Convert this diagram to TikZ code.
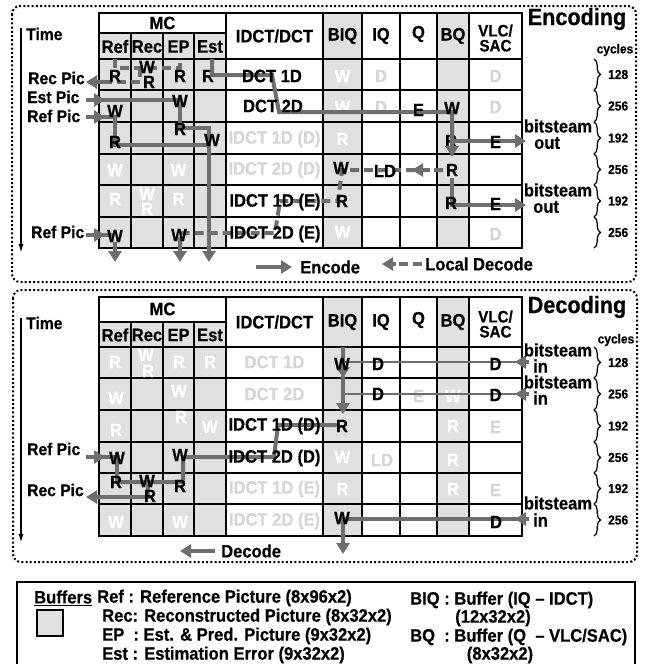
\documentclass[tikz,border=0pt]{standalone}
\usepackage{fontspec}
\setmainfont{Liberation Sans Bold}[FakeStretch=0.92,FakeBold=0.5]
\usetikzlibrary{arrows.meta,decorations.pathreplacing}
\definecolor{cellgray}{HTML}{E0E0E0}
\definecolor{arr}{HTML}{6E6E6E}
\definecolor{faint}{HTML}{D6D6D6}
\newcommand\gridtab[9]{%
 \fill[cellgray] (99,#2) rectangle (226,#9);
 \fill[cellgray] (323,#1) rectangle (362,#9);
 \fill[cellgray] (437,#1) rectangle (469,#9);
 \draw[gridl] (99,#2) -- (226,#2);
 \foreach \yy in {#3,#4,#5,#6,#7,#8} {\draw[gridl] (99,\yy) -- (522,\yy);}
 \foreach \xx in {131,163,194} {\draw[gridl] (\xx,#2) -- (\xx,#9);}
 \foreach \xx in {226,323,362,400,437,469} {\draw[gridl] (\xx,#1) -- (\xx,#9);}
 \draw[line width=2pt] (99,#1) rectangle (522,#9);
}
\newcommand\cellt[4]{\node[#1] (#2) at (#3) {#4};}
\begin{document}
\begin{tikzpicture}[x=1pt,y=-1pt,
  txt/.style={font=\fontsize{18}{19}\selectfont, inner sep=0pt},
  lab/.style={font=\fontsize{17}{18}\selectfont, inner sep=0pt},
  sm/.style={font=\fontsize{13}{14}\selectfont, inner sep=0pt},
  big/.style={font=\fontsize{23.5}{25}\selectfont, inner sep=0pt},
  bk/.style={txt,text=black},
  wh/.style={txt,text=white},
  ft/.style={txt,text=faint},
  sol/.style={draw=arr,line width=4pt},
  solthin/.style={draw=arr,line width=2.5pt},
  dsh/.style={draw=arr,line width=4pt,dash pattern=on 9pt off 5pt},
  tip/.style={-{Triangle[width=13pt,length=11pt]}},
  gridl/.style={line width=1.7pt},
  frame/.style={line width=2pt, dash pattern=on 2pt off 2.2pt, rounded corners=8pt},
  brc/.style={decorate, decoration={brace, amplitude=6.5pt}, line width=1.2pt},
  timeax/.style={line width=1.5pt,-{Latex[length=9pt,width=5pt]}},
]
\useasboundingbox (0,0) rectangle (647,664);
\fill[white] (0,0) rectangle (647,664);

% ================= ENCODING =================
\draw[frame] (12,6) rectangle (636,282);
\gridtab{13}{33}{59}{90}{122}{154}{185}{217}{248}
% header
\cellt{bk}{eMC}{162.5,23}{MC}
\cellt{bk}{eRef}{115,46.5}{Ref}
\cellt{bk}{eRec}{147,46.5}{Rec}
\cellt{bk}{eEP}{178.5,46.5}{EP}
\cellt{bk}{eEst}{210,46.5}{Est}
\cellt{bk}{eIDCT}{274.5,36}{IDCT/DCT}
\cellt{bk}{eBIQ}{342.5,36}{BIQ}
\cellt{bk}{eIQ}{381,36}{IQ}
\cellt{bk}{eQ}{418.5,34}{Q}
\cellt{bk}{eBQ}{453,36}{BQ}
\node[txt,align=center,font=\fontsize{16.5}{15}\selectfont] (eVLC) at (495.5,38) {VLC/\\SAC};
% faint cells
\cellt{wh}{e1biq}{342.5,76}{W}
\cellt{ft}{e1iq}{381,76}{D}
\cellt{ft}{e1vlc}{495.5,76}{D}
\cellt{wh}{e2biq}{342.5,107}{W}
\cellt{ft}{e2iq}{381,107}{D}
\cellt{ft}{e2vlc}{495.5,107}{D}
\cellt{ft}{e3idct}{274.5,139}{IDCT 1D (D)}
\cellt{wh}{e3biq}{342.5,139}{R}
\cellt{wh}{e4ref}{115,170}{W}
\cellt{wh}{e4ep}{178.5,170}{W}
\cellt{ft}{e4idct}{274.5,170}{IDCT 2D (D)}
\cellt{wh}{e5ref}{115,199}{R}
\cellt{wh}{e5recw}{147,194}{W}
\cellt{wh}{e5recr}{147,209}{R}
\cellt{wh}{e5ep}{178.5,199}{R}
\cellt{wh}{e6biq}{342.5,232}{W}
\cellt{ft}{e6vlc}{495.5,234}{D}
\cellt{bk}{e1est}{208,76}{R}
\cellt{bk}{e3bq}{451,141}{R}
% arrows: encode
\draw[sol] (212,59) -- (212,75) -- (272,75) -- (279,112) -- (452,112) -- (452,145);
\draw[sol,tip] (452,140) -- (452,157);
\draw[sol,tip] (452,141) -- (526,141);
\draw[sol,tip] (452,178) -- (452,205) -- (526,205);
\draw[sol] (100,100) -- (180,100) -- (180,128) -- (209,128) -- (209,150);
\draw[sol,tip] (86,100) -- (105,100);
\draw[sol] (100,117) -- (115,117) -- (115,145) -- (209,145);
\draw[sol,tip] (209,140) -- (209,262);
\draw[sol,tip] (86,117) -- (105,117);
% arrows: local decode
\draw[dsh] (115,59) -- (115,68) -- (180,68) -- (180,59);
\draw[dsh] (140,68) -- (140,82) -- (99,82);
\draw[sol,tip] (103,82) -- (86,82);
\draw[dsh] (443,170) -- (342,170) -- (338,201) -- (280,201) -- (275,233) -- (180,233) -- (180,246);
\draw[sol,tip] (430,170) -- (412,170);
\draw[sol,tip] (180,242) -- (180,262);
\draw[sol,tip] (86,235) -- (105,235);
\draw[sol] (100,235) -- (113,235);
\draw[sol,tip] (115,242) -- (115,262);
% black cells
\cellt{bk}{e1ref}{115,76}{R}
\cellt{bk}{e1recw}{147,67}{W}
\cellt{bk}{e1recr}{149,82}{R}
\cellt{bk}{e1ep}{180,76}{R}
\cellt{bk}{e1idct}{272,76}{DCT 1D}
\cellt{bk}{e2ref}{115,111}{W}
\cellt{bk}{e2ep}{180,101}{W}
\cellt{bk}{e2idct}{273,106}{DCT 2D}
\cellt{bk}{e2q}{418.5,110}{E}
\cellt{bk}{e2bq}{452,108}{W}
\cellt{bk}{e3ref}{115,142}{R}
\cellt{bk}{e3ep}{180,129}{R}
\cellt{bk}{e3est}{212,140}{W}
\cellt{bk}{e3vlc}{495.5,142}{E}
\cellt{bk}{e4biq}{341,168}{W}
\cellt{bk}{e4iq}{385,171}{LD}
\cellt{bk}{e4bq}{452,170}{R}
\cellt{bk}{e5idct}{275,202}{IDCT 1D (E)}
\cellt{bk}{e5biq}{342,201}{R}
\cellt{bk}{e5bq}{451,203}{R}
\cellt{bk}{e5vlc}{495.5,204}{E}
\cellt{bk}{e6ref}{115,236}{W}
\cellt{bk}{e6ep}{179,235}{W}
\cellt{bk}{e6idct}{275,234}{IDCT 2D (E)}
% side labels
\draw[timeax] (21,28) -- (21,253);
\node[lab,anchor=west] (eTime) at (26,34) {Time};
\node[lab,anchor=west] (eRecPic) at (28,78) {Rec Pic};
\node[lab,anchor=west] (eEstPic) at (27,97) {Est Pic};
\node[lab,anchor=west] (eRefPic) at (27,116) {Ref Pic};
\node[lab,anchor=west] (eRefPic2) at (31,232) {Ref Pic};
% right labels
\node[big] (eTitle) at (577,19) {Encoding};
\node[sm] (eCyc) at (615,50) {cycles};
\foreach \a/\b/\c in {59/90/128,90/122/256,122/154/192,154/185/256,185/217/192,217/248/256}{
  \draw[brc] (594,\a) -- (594,\b);
  \node[sm,anchor=west] at (608,{(\a+\b)/2}) {\c};
}
\node[txt] (eBs1) at (558,126) {bitsteam};
\node[txt,anchor=west] (eOut1) at (534,143) {out};
\node[txt] (eBs2) at (558,190) {bitsteam};
\node[txt,anchor=west] (eOut2) at (533,207) {out};
% legend
\draw[sol,tip] (256,267) -- (292,267);
\node[txt,anchor=west] (eEnc) at (300,267) {Encode};
\draw[dsh] (422,264) -- (393,264);
\draw[sol,tip] (396,264) -- (382,264);
\node[txt,anchor=west] (eLD) at (425,264) {Local Decode};

% ================= DECODING =================
\draw[frame] (13,290) rectangle (637,562);
\gridtab{297}{322}{347}{378}{410}{442}{473}{504}{536}
\cellt{bk}{dMC}{162.5,309}{MC}
\cellt{bk}{dRef}{115,335}{Ref}
\cellt{bk}{dRec}{147,335}{Rec}
\cellt{bk}{dEP}{178.5,335}{EP}
\cellt{bk}{dEst}{210,335}{Est}
\cellt{bk}{dIDCT}{274.5,322}{IDCT/DCT}
\cellt{bk}{dBIQ}{342.5,322}{BIQ}
\cellt{bk}{dIQ}{381,322}{IQ}
\cellt{bk}{dQ}{418.5,320}{Q}
\cellt{bk}{dBQ}{453,322}{BQ}
\node[txt,align=center,font=\fontsize{16.5}{15}\selectfont] (dVLC) at (495.5,324) {VLC/\\SAC};
% faint cells
\cellt{wh}{d1ref}{115,362}{R}
\cellt{wh}{d1recw}{146,355}{W}
\cellt{wh}{d1recr}{148,371}{R}
\cellt{wh}{d1ep}{179,362}{R}
\cellt{wh}{d1est}{210,362}{R}
\cellt{ft}{d1idct}{274.5,362}{DCT 1D}
\cellt{wh}{d2ref}{116,398}{W}
\cellt{wh}{d2ep}{179,391}{W}
\cellt{ft}{d2idct}{274.5,394}{DCT 2D}
\cellt{ft}{d2q}{418.5,396}{E}
\cellt{wh}{d2bq}{453,396}{W}
\cellt{wh}{d3ref}{116,430}{R}
\cellt{wh}{d3ep}{181,417}{R}
\cellt{wh}{d3est}{210,427}{W}
\cellt{wh}{d3bq}{453,426}{R}
\cellt{ft}{d3vlc}{495.5,427}{E}
\cellt{wh}{d4biq}{342.5,457}{W}
\cellt{ft}{d4iq}{382,460}{LD}
\cellt{wh}{d4bq}{453,460}{R}
\cellt{ft}{d5idct}{274.5,489}{IDCT 1D (E)}
\cellt{wh}{d5biq}{342.5,489}{R}
\cellt{wh}{d5bq}{453,489}{R}
\cellt{ft}{d5vlc}{495.5,490}{E}
\cellt{wh}{d6ref}{116,522}{W}
\cellt{wh}{d6ep}{180,522}{W}
\cellt{ft}{d6idct}{274.5,521}{IDCT 2D (E)}
% arrows: decode
\draw[solthin] (528,362) -- (345,362);
\draw[sol,tip] (529,362) -- (515,362);
\draw[solthin] (528,394) -- (345,394);
\draw[sol,tip] (529,394) -- (515,394);
\draw[sol,tip] (343,347) -- (343,378);
\draw[sol,tip] (343,376) -- (343,414);
\draw[sol] (338,425) -- (278,425) -- (274,457) -- (183,457) -- (183,482) -- (117,482);
\draw[sol,tip] (86,457) -- (105,457);
\draw[sol] (100,457) -- (117,457) -- (117,482);
\draw[sol] (148,482) -- (148,497) -- (99,497);
\draw[sol,tip] (103,497) -- (86,497);
\draw[sol] (528,519) -- (343,519);
\draw[sol,tip] (529,519) -- (515,519);
\draw[sol,tip] (343,517) -- (343,554);
% black cells
\cellt{bk}{d1biq}{342,364}{W}
\cellt{bk}{d1iq}{378,364}{D}
\cellt{bk}{d1vlc}{495.5,364}{D}
\cellt{bk}{d2iq}{378,394}{D}
\cellt{bk}{d2vlc}{495.5,395}{D}
\cellt{bk}{d3idct}{274.5,426}{IDCT 1D (D)}
\cellt{bk}{d3biq}{342,426}{R}
\cellt{bk}{d4ref}{117,458}{W}
\cellt{bk}{d4ep}{180,455}{W}
\cellt{bk}{d4idct}{274.5,458}{IDCT 2D (D)}
\cellt{bk}{d5ref}{116,482}{R}
\cellt{bk}{d5recw}{147,481}{W}
\cellt{bk}{d5recr}{150,496}{R}
\cellt{bk}{d5ep}{180,486}{R}
\cellt{bk}{d6biq}{342,518}{W}
\cellt{bk}{d6vlc}{496,522}{D}
% side labels
\draw[timeax] (21,318) -- (21,543);
\node[lab,anchor=west] (dTime) at (26,323) {Time};
\node[lab,anchor=west] (dRefPic) at (27,449) {Ref Pic};
\node[lab,anchor=west] (dRecPic) at (27,490) {Rec Pic};
\node[big] (dTitle) at (577,307) {Decoding};
\node[sm] (dCyc) at (616,340) {cycles};
\foreach \a/\b/\c in {347/378/128,378/410/256,410/442/192,442/473/256,473/504/192,504/536/256}{
  \draw[brc] (594,\a) -- (594,\b);
  \node[sm,anchor=west] at (608,{(\a+\b)/2}) {\c};
}
\node[txt] (dBs1) at (558,350) {bitsteam};
\node[txt,anchor=west] (dIn1) at (533,366) {in};
\node[txt] (dBs2) at (558,382) {bitsteam};
\node[txt,anchor=west] (dIn2) at (533,398) {in};
\node[txt] (dBs3) at (558,503) {bitsteam};
\node[txt,anchor=west] (dIn3) at (533,520) {in};
\draw[sol,tip] (215,551) -- (180,551);
\node[txt,anchor=west] (dDec) at (221,551) {Decode};

% ================= BUFFERS LEGEND =================
\draw[line width=2pt] (17,582) rectangle (635,672);
\node[txt,anchor=west] (bBuf) at (34,598) {\underline{Buffers}};
\draw[line width=1.2pt, fill=cellgray] (37,610) rectangle (63,636);
\node[txt,anchor=west] (bRef) at (97,598) {Ref : Reference Picture (8x96x2)};
\node[txt,anchor=west] (bRec) at (102,617) {Rec: Reconstructed Picture (8x32x2)};
\node[txt,anchor=west] (bEP) at (102,636) {EP\ \ : Est. \& Pred. Picture (9x32x2)};
\node[txt,anchor=west] (bEst) at (102,655) {Est : Estimation Error (9x32x2)};
\node[txt,anchor=west] (bBIQ) at (410,600) {BIQ : Buffer (IQ – IDCT)};
\node[txt] (bBIQ2) at (493,618) {(12x32x2)};
\node[txt,anchor=west] (bBQ) at (410,637) {BQ\ \ : Buffer (Q\ \ – VLC/SAC)};
\node[txt] (bBQ2) at (500,655) {(8x32x2)};
\end{tikzpicture}
\end{document}
